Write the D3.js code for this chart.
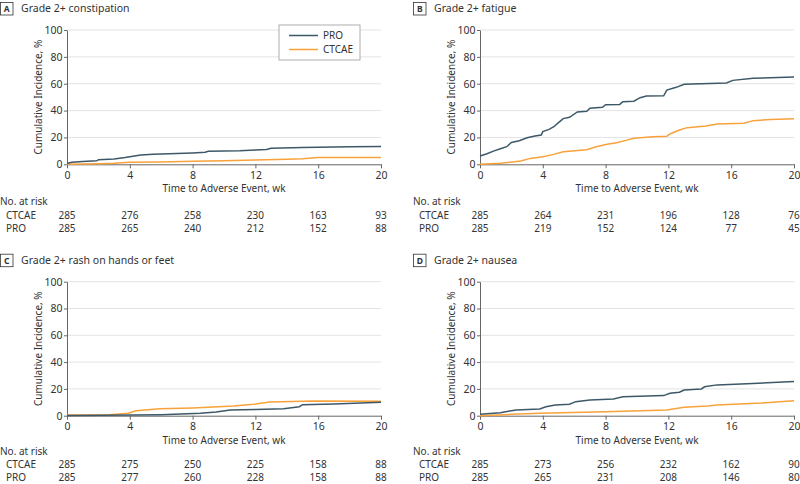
<!DOCTYPE html>
<html><head><meta charset="utf-8">
<script src="https://cdn.jsdelivr.net/npm/d3@7"></script>
<style>body{margin:0;background:#fff}svg{display:block}text{font-family:"Noto Sans","Open Sans",Arial,sans-serif;fill:#333}</style>
</head><body><svg id="c" width="800" height="484"></svg>
<script>
// ---------- data ----------
const weekTicks = [0, 4, 8, 12, 16, 20];
const yTicks = [0, 20, 40, 60, 80, 100];
const seriesNames = ["PRO", "CTCAE"];
const panelLetters = ["A", "B", "C", "D"];
const panelTitles = ["Grade 2+ constipation", "Grade 2+ fatigue", "Grade 2+ rash on hands or feet", "Grade 2+ nausea"];

// [week, cumulative incidence %]
const proA = [[0,0.6],[0.3,1.5],[1,2],[1.9,2.6],[2,3.4],[3,4],[3.7,5],[4.2,6],[4.7,7],[5.5,7.5],[7,8],[8,8.5],[8.8,9],[9,9.7],[11,10],[12,10.6],[12.7,11],[13,12],[15,12.5],[18,13],[20,13.3]];
const ctcaeA = [[0,0],[1,0.3],[2,0.5],[3,0.8],[4,1.5],[6,1.8],[8,2.2],[10,2.6],[12,3.2],[14,3.8],[15,4.2],[16,5],[20,5]];
const proB = [[0,6.2],[0.4,7.7],[0.9,10],[1.3,11.6],[1.7,13.1],[2,16.3],[2.5,17.5],[3,19.8],[3.5,21],[3.9,21.8],[4,24.3],[4.4,26],[4.7,28],[5,31],[5.3,34],[5.7,35],[6.2,39],[6.8,39.5],[7,41.7],[7.8,42.5],[8,44.4],[8.9,44.6],[9.1,46.6],[9.8,47],[10.2,49.6],[10.6,50.9],[11.7,51],[11.9,55.3],[12.5,57.3],[13,59.6],[15.7,60.5],[16.1,62.5],[17.4,64],[20,65]];
const ctcaeB = [[0,0],[1.3,0.7],[2.6,2.4],[3.2,4.4],[4,5.7],[4.7,7.4],[5.3,9.4],[6.8,10.9],[7.4,13.1],[8.1,14.9],[8.7,16.1],[9.3,17.8],[9.8,19.4],[11,20.6],[11.9,20.8],[12.1,22.6],[12.7,25.5],[13.2,27.3],[14.4,28.5],[15.1,30],[16.8,30.5],[17.4,32.5],[18.5,33.3],[20,34]];
const proC = [[0,0.2],[4.2,0.5],[6,0.8],[8.5,1.8],[9.5,2.8],[10.4,4.3],[12,4.6],[13.8,5.2],[14.8,6.7],[15,8.2],[17,8.8],[20,10]];
const ctcaeC = [[0,0.5],[2.7,0.8],[3.9,1.8],[4.4,3.7],[5.9,5.2],[8,5.8],[10.6,7.2],[11.9,8.5],[12.9,10.2],[15.7,11],[20,10.8]];
const proD = [[0,1],[1.3,2.2],[1.9,3.5],[2.3,4.3],[3.8,5],[4.2,6.7],[4.8,8],[5.7,8.5],[6.1,10.5],[7,11.7],[8.5,12.5],[9.1,14.2],[11.7,15],[12.1,16.7],[12.7,17.5],[13,19.2],[14.1,20],[14.3,21.6],[15.1,23],[17,23.8],[20,25.5]];
const ctcaeD = [[0,0],[2,1],[3.8,1.8],[8,3],[11.9,4.3],[13,6.3],[14.5,7.2],[15.1,8],[17.9,9.4],[20,11.2]];

const riskCtcae = [[285,276,258,230,163,93],[285,264,231,196,128,76],[285,275,250,225,158,88],[285,273,256,232,162,90]];
const riskPro   = [[285,265,240,212,152,88],[285,219,152,124,77,45],[285,277,260,228,158,88],[285,265,231,208,146,80]];

const proSeries = [proA, proB, proC, proD];
const ctcaeSeries = [ctcaeA, ctcaeB, ctcaeC, ctcaeD];
const colors = {PRO: "#3d5868", CTCAE: "#f7a23a"};

// ---------- layout ----------
const panels = [
  {ox: 0,   plotL: 67,  plotR: 381, top: 30,    bottom: 164.3, rows: [41, 54.5, 67.5]},
  {ox: 413, plotL: 480, plotR: 794, top: 30,    bottom: 164.3, rows: [41, 54.5, 67.5]},
  {ox: 0,   plotL: 67,  plotR: 381, top: 281.7, bottom: 415.7, rows: [39.3, 52.3, 65.3]},
  {ox: 413, plotL: 480, plotR: 794, top: 281.7, bottom: 415.7, rows: [39.3, 52.3, 65.3]}
];
const FS = 10;
const FF = '"Noto Sans","Open Sans",Arial,sans-serif';

const svg = d3.select("#c");

panels.forEach((p, i) => {
  const g = svg.append("g");
  const x = d3.scaleLinear().domain([0, 20]).range([p.plotL, p.plotR]);
  const y = d3.scaleLinear().domain([0, 100]).range([p.bottom, p.top]);

  // title with letter box
  const ty = p.top - 21.5;
  g.append("rect").attr("x", p.ox + 0.5).attr("y", ty - 6).attr("width", 12.5).attr("height", 12.5)
    .attr("fill", "#fff").attr("stroke", "#333").attr("stroke-width", 0.8);
  g.append("text").attr("x", p.ox + 6.75).attr("y", ty + 3.3).attr("text-anchor", "middle")
    .attr("font-size", 8.5).attr("font-weight", "bold").text(panelLetters[i]);
  g.append("text").attr("x", p.ox + 21).attr("y", ty + 3.6).attr("font-size", 10.5).text(panelTitles[i]);

  // gridlines
  g.append("g").selectAll("line").data(yTicks.filter(d => d > 0)).join("line")
    .attr("x1", p.plotL).attr("x2", p.plotR).attr("y1", d => y(d)).attr("y2", d => y(d))
    .attr("stroke", "#e3e3e3").attr("stroke-width", 1);

  // y axis
  const ya = g.append("g").attr("transform", `translate(${p.plotL},0)`)
    .call(d3.axisLeft(y).tickValues(yTicks).tickSize(3).tickSizeOuter(0));
  ya.select(".domain").attr("stroke", "#666");
  ya.selectAll(".tick line").attr("stroke", "#666");
  ya.selectAll("text").attr("font-size", 10.5).attr("fill", "#444").attr("x", -4.5)
    .style("font-family", FF);

  // x axis
  const xa = g.append("g").attr("transform", `translate(0,${p.bottom})`)
    .call(d3.axisBottom(x).tickValues(weekTicks).tickSize(4).tickSizeOuter(0));
  xa.select(".domain").attr("stroke", "#666");
  xa.selectAll(".tick line").attr("stroke", "#666");
  xa.selectAll("text").attr("font-size", 10.5).attr("fill", "#444").attr("y", 7)
    .style("font-family", FF);

  // axis titles
  g.append("text").attr("x", (p.plotL + p.plotR) / 2).attr("y", p.bottom + 28).attr("text-anchor", "middle")
    .attr("font-size", FS).text("Time to Adverse Event, wk");
  g.append("text").attr("transform", `translate(${p.plotL - 25.5},${(p.top + p.bottom) / 2}) rotate(-90)`)
    .attr("text-anchor", "middle").attr("font-size", FS).text("Cumulative Incidence, %");

  // curves
  const line = d3.line().x(d => x(d[0])).y(d => y(d[1])).curve(d3.curveLinear);
  g.append("path").datum(ctcaeSeries[i]).attr("d", line).attr("fill", "none")
    .attr("stroke", colors.CTCAE).attr("stroke-width", 1.5);
  g.append("path").datum(proSeries[i]).attr("d", line).attr("fill", "none")
    .attr("stroke", colors.PRO).attr("stroke-width", 1.5);

  // number at risk
  g.append("text").attr("x", p.ox).attr("y", p.bottom + p.rows[0]).attr("font-size", FS).text("No. at risk");
  [["CTCAE", riskCtcae[i]], ["PRO", riskPro[i]]].forEach(([nm, vals], k) => {
    const yy = p.bottom + p.rows[k + 1];
    g.append("text").attr("x", p.ox + 6).attr("y", yy).attr("font-size", FS).text(nm);
    g.append("g").selectAll("text").data(vals).join("text")
      .attr("x", (d, j) => x(weekTicks[j])).attr("y", yy).attr("text-anchor", "middle")
      .attr("font-size", FS).text(d => d);
  });

  // legend (panel A only)
  if (i === 0) {
    const lg = g.append("g");
    lg.append("rect").attr("x", 279).attr("y", 25).attr("width", 81).attr("height", 35)
      .attr("fill", "#fff").attr("stroke", "#999").attr("stroke-width", 0.8);
    seriesNames.forEach((s, k) => {
      const ly = 35.5 + k * 14;
      lg.append("line").attr("x1", 289).attr("x2", 318).attr("y1", ly).attr("y2", ly)
        .attr("stroke", colors[s]).attr("stroke-width", 1.5);
      lg.append("text").attr("x", 323).attr("y", ly + 3.5).attr("font-size", FS).text(s);
    });
  }
});
</script></body></html>
